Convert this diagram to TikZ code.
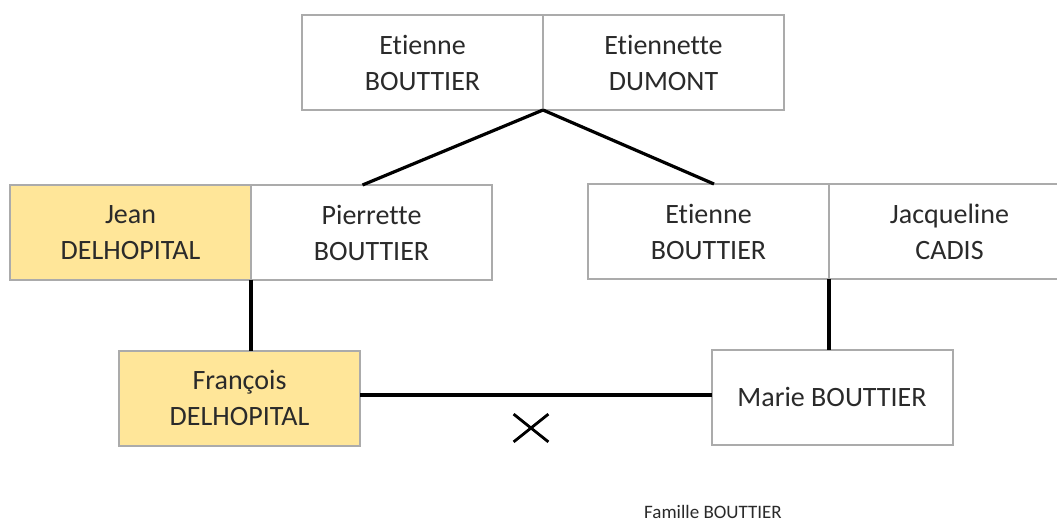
\documentclass[tikz,border=0pt]{standalone}
\usepackage{fontspec}
\setmainfont{Carlito}[Ligatures=NoCommon]
\usepackage{xcolor}
\usepackage{tikz}
\usetikzlibrary{positioning,shapes.misc,calc}
\definecolor{FAMgray}{HTML}{ABABAB}
\definecolor{FAMgold}{HTML}{FFE699}
\definecolor{FAMtext}{HTML}{2A2A2A}

\begin{document}
\begin{tikzpicture}[x=1pt, y=-1pt,
    person/.style={draw=FAMgray, line width=2pt, fill=white, minimum width=241pt,
      minimum height=95pt, inner sep=0pt, outer sep=0pt, align=center,
      text=FAMtext, font=\fontsize{28}{36}\selectfont},
    link/.style={black, line width=3.2pt}]
      \useasboundingbox (0,0) rectangle (1057,523);
      \clip (0,0) rectangle (1057,523);
      % grands-parents
      \node[person] (etienneA) at (422.5,62.5) {Etienne\\BOUTTIER};
      \node[person, right=0pt of etienneA] (etiennette) {Etiennette\\DUMONT};
      % parents
      \node[person, fill=FAMgold] (jean) at (130.5,232.5) {Jean\\DELHOPITAL};
      \node[person, right=0pt of jean] (pierrette) {Pierrette\\BOUTTIER};
      \node[person] (etienneB) at (708.5,231.5) {Etienne\\BOUTTIER};
      \node[person, right=0pt of etienneB] (jacqueline) {Jacqueline\\CADIS};
      % enfants
      \node[person, fill=FAMgold] (francois) at (239.5,398) {François\\DELHOPITAL};
      \node[person] (marie) at (832,397) {Marie BOUTTIER};
      \node[draw, cross out, line width=2.8pt, minimum width=32pt,
        minimum height=25pt, inner sep=0pt] (mariage) at (531,428) {};
      \node[anchor=base, text=FAMtext, font=\fontsize{19}{22}\selectfont]
        (titre) at (713,518) {Famille BOUTTIER};
      % liens
      \draw[link] (etienneA.south east) -- ([xshift=-9pt]pierrette.north);
      \draw[link] (etienneA.south east) -- ([xshift=5.5pt]etienneB.north);
      \draw[link] (jean.south east) -- (jean.south east |- francois.north);
      \draw[link] (jacqueline.south west) -- (jacqueline.south west |- marie.north);
      \draw[link] ([yshift=3pt]francois.east) -- ([yshift=3pt]francois.east -| marie.west);
    \end{tikzpicture}
\end{document}
